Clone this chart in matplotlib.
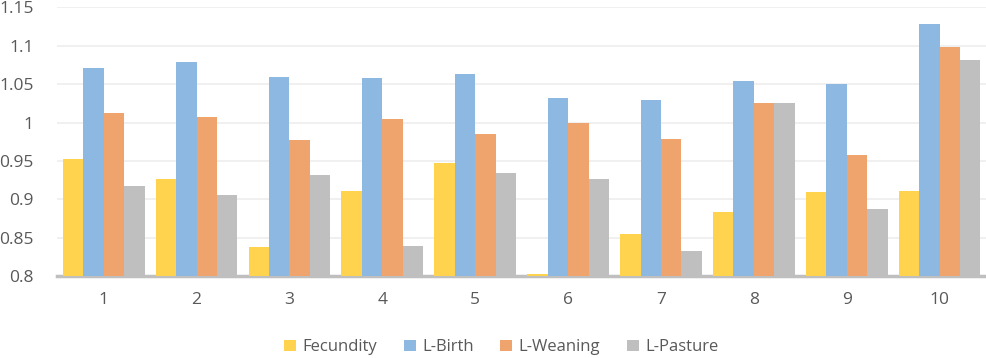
import matplotlib.pyplot as plt
import numpy as np

plt.rcParams["font.family"] = ["Open Sans", "DejaVu Sans"]

categories = ["1", "2", "3", "4", "5", "6", "7", "8", "9", "10"]
fecundity = [0.953, 0.927, 0.838, 0.911, 0.947, 0.803, 0.855, 0.884, 0.910, 0.911]
l_birth = [1.071, 1.079, 1.059, 1.058, 1.063, 1.032, 1.029, 1.054, 1.050, 1.128]
l_weaning = [1.012, 1.007, 0.977, 1.004, 0.985, 0.999, 0.978, 1.026, 0.958, 1.098]
l_pasture = [0.918, 0.906, 0.932, 0.840, 0.935, 0.926, 0.833, 1.026, 0.888, 1.081]

series = [
    ("Fecundity", fecundity, "#FFD34D"),
    ("L-Birth", l_birth, "#8DB8E1"),
    ("L-Weaning", l_weaning, "#F0A46D"),
    ("L-Pasture", l_pasture, "#BFBFBF"),
]

TEXT = "#595959"

fig = plt.figure(figsize=(9.87, 3.58), dpi=100)
ax = fig.add_axes([0.058, 0.228, 0.941, 0.752])

x = np.arange(len(categories))
width = 0.22
for i, (name, vals, color) in enumerate(series):
    offs = (i - 1.5) * width
    ax.bar(x + offs, np.array(vals) - 0.8, width, bottom=0.8, color=color,
           label=name, zorder=3)

ax.set_xlim(-0.5, len(categories) - 0.5)
ax.set_ylim(0.8, 1.15)
yt = [0.8, 0.85, 0.9, 0.95, 1.0, 1.05, 1.1, 1.15]
ax.set_yticks(yt)
ax.set_yticklabels(["0.8", "0.85", "0.9", "0.95", "1", "1.05", "1.1", "1.15"])
ax.set_xticks(x)
ax.set_xticklabels(categories)
ax.tick_params(axis="both", length=0, labelsize=12.5, colors=TEXT)
ax.tick_params(axis="y", pad=17)
ax.tick_params(axis="x", pad=11)
ax.grid(axis="y", color="#EEEEEE", linewidth=1.2, zorder=0)
for s in ["top", "right", "left"]:
    ax.spines[s].set_visible(False)
ax.spines["bottom"].set_color("#BFBFBF")
ax.spines["bottom"].set_linewidth(2.5)
ax.spines["bottom"].set_zorder(2)

leg = fig.legend(loc="center", bbox_to_anchor=(0.508, 0.03), ncol=4,
                 frameon=False, fontsize=12, handlelength=0.7, handleheight=0.7,
                 handletextpad=0.4, columnspacing=1.6)
for t in leg.get_texts():
    t.set_color(TEXT)

fig.savefig("out.png", dpi=100)
